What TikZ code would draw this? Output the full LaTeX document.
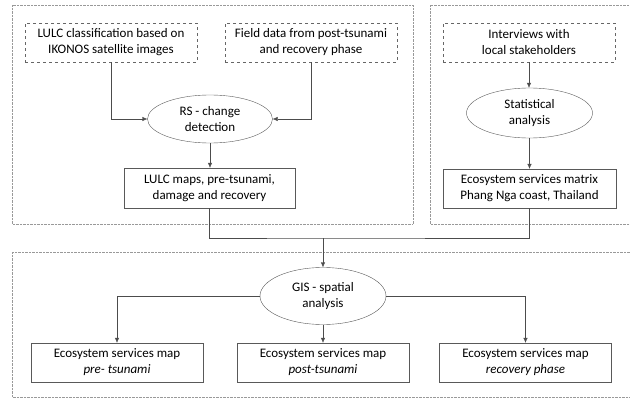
\documentclass[tikz,border=0pt]{standalone}
\usepackage{fontspec}
\setmainfont{Carlito}
\usepackage{tikz}
\usetikzlibrary{arrows.meta,positioning,calc,shapes.geometric}

\tikzset{
  srcbox/.style={draw=black!60,dashed,minimum width=172pt,minimum height=39pt,align=center,inner sep=2pt},
  outbox/.style={draw=black!65,minimum width=172pt,minimum height=39pt,align=center,inner sep=2pt},
  proc/.style={draw=black!65,ellipse,minimum width=125pt,minimum height=48pt,align=center,inner sep=0pt},
  frame/.style={draw=black!40,densely dotted},
  link/.style={draw=black!70},
}

\begin{document}
\begin{tikzpicture}[x=1pt,y=-1pt,font=\fontsize{13}{16}\selectfont,>={Latex[length=5pt,width=4.5pt]}]
  \useasboundingbox (0,0) rectangle (630,399);
  % frames
  \draw[frame] (12,5) rectangle (413,224);
  \draw[frame] (430,5) rectangle (640,224);
  \draw[frame] (12,252) rectangle (640,397);

  % remote sensing part
  \node[srcbox] (lulc) at (111,42.5) {LULC classification based on\\IKONOS satellite images};
  \node[srcbox] (field) at (311,42.5) {Field data from post-tsunami\\and recovery phase};
  \node[proc] (rs) at (210,119) {RS - change\\detection};
  \node[outbox,minimum width=171pt,minimum height=40pt] (maps) at (209.5,188) {LULC maps, pre-tsunami,\\damage and recovery};

  % interviews part
  \node[srcbox] (intv) at (529,42.5) {Interviews with\\local stakeholders};
  \node[proc,minimum width=126pt,minimum height=50pt] (stat) at (529.5,113) {Statistical\\analysis};
  \node[outbox,minimum width=173pt] (matrix) at (529.5,188.5) {Ecosystem services matrix\\Phang Nga coast, Thailand};

  % GIS part
  \coordinate (merge) at (323,238);
  \node[proc,minimum width=126pt,minimum height=57pt] (gis) at (323,296) {GIS - spatial\\analysis};
  \node[outbox] (pre) at (117,362.5) {Ecosystem services map\\\textit{pre- tsunami}};
  \node[outbox] (post) at (323,362.5) {Ecosystem services map\\\textit{post-tsunami}};
  \node[outbox] (rec) at (525.5,362.5) {Ecosystem services map\\\textit{recovery phase}};

  \draw[link,->] (lulc.south) |- (rs.west);
  \draw[link,->] (field.south) |- (rs.east);
  \draw[link,->] (rs.south) -- (rs.south |- maps.north);
  \draw[link,->] (intv.south) -- (intv.south |- stat.north);
  \draw[link,->] (stat.south) -- (stat.south |- matrix.north);
  \draw[link] (maps.south) |- (merge) -| (matrix.south);
  \draw[link,->] (merge) -- (gis.north);
  \draw[link,->] (gis.west) -| (pre.north);
  \draw[link,->] (gis.south) -- (post.north);
  \draw[link,->] (gis.east) -| (rec.north);
\end{tikzpicture}
\end{document}
